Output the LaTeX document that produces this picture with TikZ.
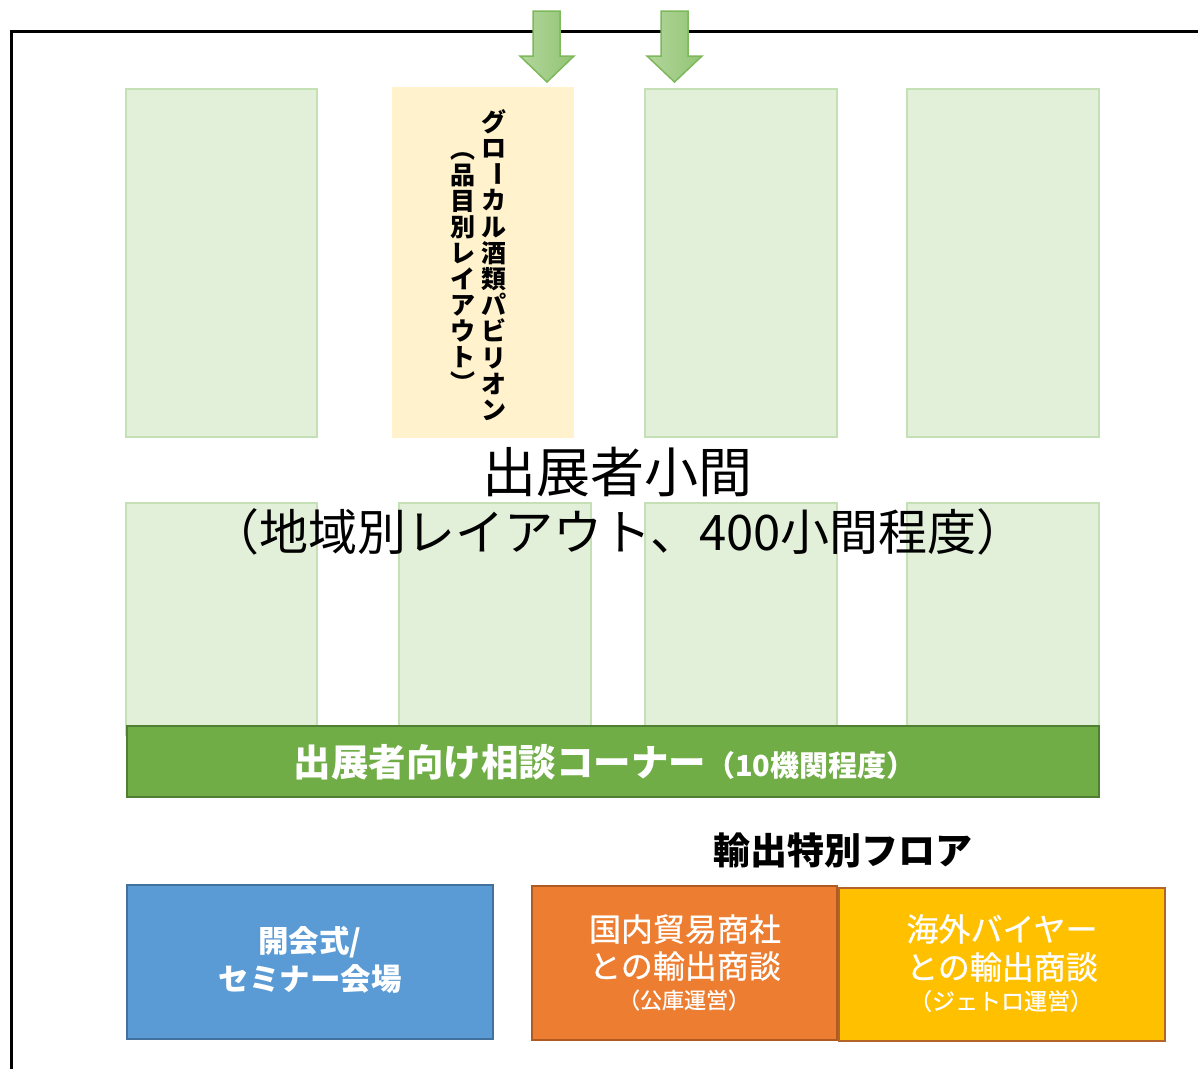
\documentclass[tikz,border=0pt]{standalone}
\usepackage{fontspec}
\usepackage{graphicx}
\setmainfont{Noto Sans CJK JP}
\newfontfamily\jpmed[FakeBold=0.6]{Noto Sans CJK JP}
\definecolor{boothfill}{HTML}{E2F0D9}
\definecolor{boothline}{HTML}{C5E0B4}
\definecolor{pavfill}{HTML}{FFF2CC}
\definecolor{barfill}{HTML}{70AD47}
\definecolor{barline}{HTML}{507E32}
\definecolor{bluefill}{HTML}{5B9BD5}
\definecolor{blueline}{HTML}{41719C}
\definecolor{orfill}{HTML}{ED7D31}
\definecolor{orline}{HTML}{AE5A21}
\definecolor{yefill}{HTML}{FFC000}
\definecolor{yeline}{HTML}{B4642A}
\definecolor{arrowL}{HTML}{B2D69C}
\definecolor{arrowR}{HTML}{93C474}
\definecolor{arrowline}{HTML}{7DB85A}
\newcommand{\vr}[1]{\rotatebox[origin=c]{-90}{#1}}
\newcommand{\vbar}{\raisebox{0.16em}{\rotatebox[origin=c]{-90}{ー}}}
\begin{document}
\begin{tikzpicture}[x=1pt,y=-1pt,
  booth/.style={draw=boothline, fill=boothfill, line width=2.5pt, inner sep=0pt},
  zone/.style={line width=2.5pt, inner sep=0pt, text=white},
  fs/.style={font=\fontsize{#1}{#1}\selectfont}]
\useasboundingbox[fill=white] (0,0) rectangle (1198,1069);
% frame
\draw[line width=3pt] (11.5,1069) -- (11.5,31.5) -- (1198,31.5);
% booths top row
\node[booth, minimum width=191pt, minimum height=348pt] (b1) at (221.5,263) {};
\node[fill=pavfill, inner sep=0pt, minimum width=182pt, minimum height=351pt] (pav) at (483,262.5) {};
\node[booth, minimum width=192pt, minimum height=348pt] (b3) at (741,263) {};
\node[booth, minimum width=192pt, minimum height=348pt] (b4) at (1003,263) {};
% booths bottom row
\node[booth, minimum width=191pt, minimum height=232pt] (b5) at (221.5,619) {};
\node[booth, minimum width=192pt, minimum height=232pt] (b6) at (495,619) {};
\node[booth, minimum width=192pt, minimum height=232pt] (b7) at (741,619) {};
\node[booth, minimum width=192pt, minimum height=232pt] (b8) at (1003,619) {};
% pavilion vertical text
\node[font=\bfseries\fontsize{25}{26.2}\selectfont, align=center, inner sep=0pt] (pavA) at (494,265)
  {グ\\ロ\\\vbar\\カ\\ル\\酒\\類\\パ\\ビ\\リ\\オ\\ン};
\node[font=\bfseries\fontsize{25}{26}\selectfont, align=center, inner sep=0pt] (pavB) at (463,266)
  {\vr{（}\\品\\目\\別\\レ\\イ\\ア\\ウ\\ト\\\vr{）}};
% main text
\node[fs=54, inner sep=0pt] (main1) at (617.5,472) {出展者小間};
\node[fs=49, inner sep=0pt] (main2) at (618,532) {（地域別レイアウト、400小間程度）};
% consultation bar
\node[draw=barline, fill=barfill, line width=2pt, inner sep=0pt, minimum width=972pt, minimum height=71pt] (bar) at (613,761.5) {};
\node[text=white, inner sep=0pt, font=\bfseries] (bartext) at (604.5,762)
  {{\fontsize{37.5}{37.5}\selectfont 出展者向け相談コーナー}{\fontsize{29}{29}\selectfont （10機関程度）}};
% export floor title
\node[font=\bfseries\fontsize{37}{37}\selectfont, inner sep=0pt] (exptitle) at (843,850) {輸出特別フロア};
% bottom zones
\node[zone, draw=blueline, fill=bluefill, minimum width=366pt, minimum height=154pt] (blue) at (310,962) {};
\node[text=white, align=center, font=\bfseries\fontsize{30.5}{38}\selectfont, inner sep=0pt] (bluetext) at (310,960) {開会式/\\セミナー会場};
\node[zone, draw=orline, fill=orfill, minimum width=305pt, minimum height=154pt] (orange) at (684.5,963) {};
\node[zone, draw=yeline, fill=yefill, minimum width=326pt, minimum height=153pt] (yellow) at (1002,964.5) {};
\node[text=white, align=center, font=\jpmed\fontsize{32}{37}\selectfont, inner sep=0pt] (ortext) at (685,947.5) {国内貿易商社\\との輸出商談};
\node[text=white, font=\jpmed\fontsize{22}{22}\selectfont, inner sep=0pt] (orsub) at (684,1000) {（公庫運営）};
\node[text=white, align=center, font=\jpmed\fontsize{32}{38}\selectfont, inner sep=0pt] (yetext) at (1002,948) {海外バイヤー\\との輸出商談};
\node[text=white, font=\jpmed\fontsize{23}{23}\selectfont, inner sep=0pt] (yesub) at (1001,1001) {（ジェトロ運営）};
% arrows
\path[left color=arrowL, right color=arrowR, draw=arrowline, line width=1.5pt]
  (533,11) -- (560,11) -- (560,56) -- (574,56) -- (547,82) -- (520,56) -- (533,56) -- cycle;
\path[left color=arrowL, right color=arrowR, draw=arrowline, line width=1.5pt]
  (661,11) -- (688,11) -- (688,56) -- (702,56) -- (674.5,82) -- (647,56) -- (661,56) -- cycle;
\end{tikzpicture}
\end{document}
